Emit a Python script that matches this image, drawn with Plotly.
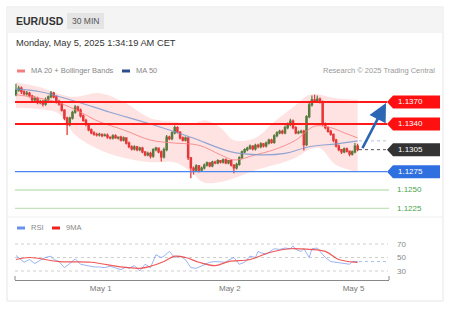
import plotly.graph_objects as go

W, H = 454, 319

# ---------------- data ----------------
first_open = 1.1380
close = [1.1386, 1.1389, 1.1384, 1.1381, 1.1382, 1.1378, 1.1373, 1.1375, 1.1369, 1.1371,
         1.1367, 1.1373, 1.1377, 1.1382, 1.1377, 1.1371, 1.1367, 1.1359, 1.1348, 1.1339,
         1.1348, 1.1356, 1.1363, 1.1359, 1.1351, 1.1345, 1.1340, 1.1332, 1.1328, 1.1326,
         1.1325, 1.1326, 1.1324, 1.1325, 1.1322, 1.1321, 1.1324, 1.1321, 1.1322, 1.1318,
         1.1321, 1.1314, 1.1309, 1.1306, 1.1309, 1.1305, 1.1307, 1.1302, 1.1298, 1.1300,
         1.1296, 1.1305, 1.1307, 1.1302, 1.1295, 1.1305, 1.1322, 1.1320, 1.1328, 1.1335,
         1.1329, 1.1321, 1.1318, 1.1321, 1.1294, 1.1280, 1.1277, 1.1283, 1.1277, 1.1280,
         1.1284, 1.1287, 1.1283, 1.1288, 1.1287, 1.1290, 1.1288, 1.1291, 1.1287, 1.1290,
         1.1284, 1.1280, 1.1285, 1.1294, 1.1302, 1.1305, 1.1307, 1.1310, 1.1306, 1.1311,
         1.1309, 1.1313, 1.1310, 1.1314, 1.1318, 1.1315, 1.1324, 1.1328, 1.1330, 1.1328,
         1.1335, 1.1339, 1.1344, 1.1335, 1.1328, 1.1329, 1.1330, 1.1312, 1.1350, 1.1366,
         1.1373, 1.1371, 1.1374, 1.1370, 1.1340, 1.1335, 1.1330, 1.1326, 1.1318, 1.1310,
         1.1305, 1.1302, 1.1306, 1.1303, 1.1299, 1.1302, 1.1310, 1.1305]
# wick lengths in pips
upper_wick = [9, 3, 2, 2, 3, 2, 2, 3, 2, 2, 2, 3, 2, 3, 2, 2, 2, 2, 1, 2,
              2, 2, 3, 2, 2, 2, 2, 1, 2, 2, 2, 2, 1, 2, 2, 1, 2, 2, 1, 2,
              2, 1, 2, 2, 2, 1, 2, 2, 1, 2, 2, 2, 2, 1, 2, 3, 3, 2, 2, 3,
              2, 1, 2, 2, 1, 1, 2, 2, 1, 2, 2, 2, 1, 2, 2, 2, 1, 2, 2, 1,
              2, 1, 2, 2, 2, 2, 2, 2, 1, 2, 2, 2, 1, 2, 2, 2, 2, 2, 2, 2,
              3, 3, 3, 2, 2, 2, 2, 2, 2, 4, 6, 7, 5, 2, 2, 2, 2, 2, 1, 2,
              2, 1, 2, 2, 1, 2, 4, 3]
lower_wick = [2, 2, 3, 2, 2, 2, 3, 2, 2, 2, 3, 2, 2, 2, 2, 3, 2, 2, 3, 14,
              2, 2, 2, 2, 2, 2, 3, 2, 2, 2, 2, 2, 2, 1, 2, 2, 2, 1, 2, 2,
              2, 2, 2, 2, 2, 2, 2, 2, 2, 2, 3, 2, 2, 2, 6, 2, 2, 2, 2, 2,
              2, 2, 2, 2, 3, 14, 6, 2, 3, 2, 2, 2, 2, 2, 2, 2, 2, 2, 2, 2,
              2, 7, 2, 2, 2, 2, 2, 2, 2, 2, 2, 2, 2, 2, 2, 2, 2, 2, 2, 2,
              2, 2, 2, 2, 2, 2, 2, 8, 2, 2, 2, 2, 2, 2, 3, 2, 2, 2, 3, 2,
              2, 3, 2, 2, 3, 2, 2, 2]

# indicators read at sparse candle positions
band_idx = [0, 9, 16, 22, 31, 40, 50, 59, 65, 70, 76, 81, 89, 96, 104, 109, 113, 119, 127]
band_up = [1.1397, 1.1390, 1.1381, 1.1377, 1.1382, 1.1370, 1.1348, 1.1343, 1.1339, 1.1345,
           1.1335, 1.1318, 1.1321, 1.1343, 1.1366, 1.1380, 1.1380, 1.1375, 1.1373]
band_lo = [1.1362, 1.1360, 1.1354, 1.1325, 1.1305, 1.1294, 1.1288, 1.1288, 1.1275, 1.1260,
           1.1261, 1.1266, 1.1277, 1.1284, 1.1294, 1.1305, 1.1307, 1.1284, 1.1275]
ma20_idx = [0, 9, 16, 24, 31, 40, 50, 59, 68, 76, 81, 89, 96, 104, 111, 117, 122, 127]
ma20_val = [1.1380, 1.1375, 1.1369, 1.1356, 1.1343, 1.1332, 1.1318, 1.1314, 1.1311, 1.1298,
            1.1291, 1.1298, 1.1305, 1.1318, 1.1337, 1.1335, 1.1328, 1.1321]
ma50_idx = [0, 9, 22, 35, 50, 65, 80, 91, 100, 109, 119, 127]
ma50_val = [1.1388, 1.1384, 1.1371, 1.1356, 1.1340, 1.1322, 1.1302, 1.1298, 1.1300, 1.1309,
            1.1313, 1.1317]

rsi_idx = [0, 1, 3, 5, 7, 9, 11, 13, 14, 16, 18, 20, 22, 24, 26, 28, 29, 31, 33, 35,
           37, 39, 41, 42, 44, 46, 48, 50, 52, 54, 55, 57, 59, 61, 63, 65, 67, 68, 70, 72,
           74, 76, 78, 79, 81, 83, 85, 87, 89, 90, 91, 93, 94, 96, 98, 100, 102, 103, 104, 106,
           107, 109, 110, 112, 113, 115, 117, 119, 120, 122, 124, 125, 127]
rsi_val = [53, 50, 43, 47, 41, 46, 50, 52, 47, 44, 35, 41, 48, 40, 38, 36, 36, 36, 35, 37,
           34, 32, 36, 34, 38, 30, 40, 35, 54, 50, 52, 59, 50, 52, 47, 35, 34, 36, 40, 43,
           44, 44, 43, 46, 50, 40, 43, 52, 50, 59, 57, 55, 58, 63, 62, 64, 63, 67, 62, 59,
           63, 50, 63, 64, 59, 50, 44, 43, 43, 41, 40, 44, 44]
ma9_idx = [0, 5, 16, 28, 39, 46, 50, 55, 59, 63, 68, 74, 79, 87, 94, 102, 109, 115, 120, 126, 127]
ma9_val = [47, 50, 44, 43, 36, 34, 37, 44, 52, 50, 43, 38, 44, 47, 57, 63, 62, 59, 47, 43, 43]

levels_red = [1.1370, 1.1340]
level_last = 1.1305
level_blue = 1.1275
levels_green = [1.1250, 1.1225]
target_price = 1.1370
tick_pos = [31.5, 79.5, 125.5]
tick_text = ["May 1", "May 2", "May 5"]
rsi_levels = [70, 50, 30]

# ---------------- derived ----------------
n = len(close)
xs = list(range(n))
opens = [first_open] + close[:-1]
highs = [max(o, c) + u / 10000 for o, c, u in zip(opens, close, upper_wick)]
lows = [min(o, c) - d / 10000 for o, c, d in zip(opens, close, lower_wick)]

def P(px):
    return px / W

def Q(py):
    return 1 - py / H

# layout geometry (pixels)
X_L, X_R = 15, 389
Y_MAIN_T, Y_MAIN_B = 80, 215
Y_RSI_T, Y_RSI_B = 232, 280
PX_PER_BAR = 2.69
X0_BAR = 16
x_range = [(X_L - X0_BAR) / PX_PER_BAR, (X_R - X0_BAR) / PX_PER_BAR]
main_range = [1.12159, 1.14000]
rsi_range = [16.67, 87.8]
pip_px = (Y_MAIN_B - Y_MAIN_T) / (main_range[1] - main_range[0])

fig = go.Figure()

# Bollinger band
fig.add_trace(go.Scatter(x=band_idx, y=band_up, mode="lines", line=dict(width=0, shape="spline"),
                         hoverinfo="skip", xaxis="x", yaxis="y"))
fig.add_trace(go.Scatter(x=band_idx, y=band_lo, mode="lines", line=dict(width=0, shape="spline"),
                         fill="tonexty", fillcolor="rgba(255,110,110,0.2)", hoverinfo="skip",
                         xaxis="x", yaxis="y"))
fig.add_trace(go.Scatter(x=ma20_idx, y=ma20_val, mode="lines",
                         line=dict(color="rgba(245,130,130,0.85)", width=1, shape="spline"),
                         xaxis="x", yaxis="y"))
fig.add_trace(go.Scatter(x=ma50_idx, y=ma50_val, mode="lines",
                         line=dict(color="rgba(120,150,205,0.8)", width=1.2, shape="spline"),
                         xaxis="x", yaxis="y"))

fig.add_trace(go.Candlestick(
    x=xs, open=opens, high=highs, low=lows, close=close,
    increasing=dict(line=dict(color="#2f7d32", width=1.2), fillcolor="#2f7d32"),
    decreasing=dict(line=dict(color="#e0282a", width=1.2), fillcolor="#e0282a"),
    whiskerwidth=0, xaxis="x", yaxis="y"))

# dotted extensions
last_x = n - 1
ext_x1 = (387 - X0_BAR) / PX_PER_BAR
fig.add_trace(go.Scatter(x=[last_x + 0.5, ext_x1], y=[ma50_val[-1]] * 2, mode="lines",
                         line=dict(color="#b5c3da", width=1, dash="dot"), xaxis="x", yaxis="y"))
fig.add_trace(go.Scatter(x=[last_x + 0.5, ext_x1], y=[close[-1]] * 2, mode="lines",
                         line=dict(color="#555555", width=1, dash="dot"), xaxis="x", yaxis="y"))

# RSI
fig.add_trace(go.Scatter(x=rsi_idx, y=rsi_val, mode="lines",
                         line=dict(color="rgba(100,140,235,0.65)", width=1),
                         xaxis="x2", yaxis="y2"))
fig.add_trace(go.Scatter(x=ma9_idx, y=ma9_val, mode="lines",
                         line=dict(color="rgba(240,60,60,0.85)", width=1.2, shape="spline"),
                         xaxis="x2", yaxis="y2"))
fig.add_trace(go.Scatter(x=[last_x + 0.5, ext_x1], y=[rsi_val[-1]] * 2, mode="lines",
                         line=dict(color="#a8bff0", width=1, dash="dot"), xaxis="x2", yaxis="y2"))

shapes = []
ann = []

# card & header
shapes.append(dict(type="rect", xref="paper", yref="paper", x0=P(7), x1=P(443), y0=Q(301), y1=Q(7),
                   line=dict(color="#e6e6e6", width=1), fillcolor="white", layer="below"))
shapes.append(dict(type="rect", xref="paper", yref="paper", x0=P(7.5), x1=P(442.5), y0=Q(33), y1=Q(7.5),
                   line=dict(width=0), fillcolor="#f4f4f4", layer="below"))
shapes.append(dict(type="rect", xref="paper", yref="paper", x0=P(67), x1=P(104), y0=Q(29), y1=Q(13),
                   line=dict(width=0), fillcolor="#e4e4e4", layer="below"))
shapes.append(dict(type="line", xref="paper", yref="paper", x0=P(7.5), x1=P(442.5), y0=Q(217), y1=Q(217),
                   line=dict(color="#eeeeee", width=1), layer="below"))

ann.append(dict(text="<b>EUR/USD</b>", x=P(14), y=Q(21), xanchor="left", yanchor="middle",
                font=dict(size=10.5, color="#333333")))
ann.append(dict(text="30 MIN", x=P(85.5), y=Q(21), xanchor="center", yanchor="middle",
                font=dict(size=8.5, color="#555555")))
ann.append(dict(text="Monday, May 5, 2025 1:34:19 AM CET", x=P(14), y=Q(43), xanchor="left",
                yanchor="middle", font=dict(size=9.3, color="#333333")))

# legends
shapes.append(dict(type="rect", xref="paper", yref="paper", x0=P(17), x1=P(25), y0=Q(72.5), y1=Q(69.5),
                   line=dict(width=0), fillcolor="#f28080"))
ann.append(dict(text="MA 20 + Bollinger Bands", x=P(29), y=Q(71), xanchor="left", yanchor="middle",
                font=dict(size=7.5, color="#888888")))
shapes.append(dict(type="rect", xref="paper", yref="paper", x0=P(122), x1=P(130), y0=Q(72.5), y1=Q(69.5),
                   line=dict(width=0), fillcolor="#2c4f8c"))
ann.append(dict(text="MA 50", x=P(134), y=Q(71), xanchor="left", yanchor="middle",
                font=dict(size=7.5, color="#888888")))
ann.append(dict(text="Research © 2025 Trading Central", x=P(437), y=Q(71), xanchor="right",
                yanchor="middle", font=dict(size=7.5, color="#999999")))
shapes.append(dict(type="rect", xref="paper", yref="paper", x0=P(17), x1=P(25), y0=Q(229.5), y1=Q(226.5),
                   line=dict(width=0), fillcolor="#6b8fec"))
ann.append(dict(text="RSI", x=P(29), y=Q(228), xanchor="left", yanchor="middle",
                font=dict(size=7.5, color="#888888")))
shapes.append(dict(type="rect", xref="paper", yref="paper", x0=P(52), x1=P(60), y0=Q(229.5), y1=Q(226.5),
                   line=dict(width=0), fillcolor="#f02020"))
ann.append(dict(text="9MA", x=P(64), y=Q(228), xanchor="left", yanchor="middle",
                font=dict(size=7.5, color="#888888")))

# level lines & tags
h = 6.5 / pip_px

def tag(price, color):
    xt, xc, xr = P(387), P(393), P(440)
    shapes.append(dict(type="path", xref="paper", yref="y",
                       path=f"M {xt},{price} L {xc},{price + h} L {xr},{price + h} "
                            f"L {xr},{price - h} L {xc},{price - h} Z",
                       fillcolor=color, line=dict(width=0)))
    ann.append(dict(text=f"{price:.4f}", x=P(396), y=price, yref="y", xanchor="left",
                    yanchor="middle", font=dict(size=8, color="white")))

for lv in levels_red:
    shapes.append(dict(type="line", xref="paper", yref="y", x0=P(X_L), x1=P(387), y0=lv, y1=lv,
                       line=dict(color="#ff1a1a", width=2)))
    tag(lv, "#ff1010")
shapes.append(dict(type="line", xref="paper", yref="y", x0=P(X_L), x1=P(387), y0=level_blue, y1=level_blue,
                   line=dict(color="#4a86ee", width=1.3)))
tag(level_blue, "#2f6fe0")
tag(level_last, "#333333")
for lv in levels_green:
    shapes.append(dict(type="line", xref="paper", yref="y", x0=P(X_L), x1=P(389), y0=lv, y1=lv,
                       line=dict(color="#c4e3bd", width=1.3)))
    ann.append(dict(text=f"{lv:.4f}", x=P(395), y=lv, yref="y", xanchor="left", yanchor="middle",
                    font=dict(size=8, color="#4aa34a")))

# arrow
ann.append(dict(x=(386 - X0_BAR) / PX_PER_BAR, y=target_price - 1 / pip_px, xref="x", yref="y",
                ax=last_x + 1.5, ay=close[-1], axref="x", ayref="y", text="", showarrow=True,
                arrowhead=2, arrowsize=1.4, arrowwidth=2.6, arrowcolor="#2d66b3"))

# RSI grid
for lv in rsi_levels:
    shapes.append(dict(type="line", xref="paper", yref="y2", x0=P(X_L), x1=P(388), y0=lv, y1=lv,
                       line=dict(color="#cfcfcf", width=1, dash="dot"), layer="below"))
    ann.append(dict(text=str(lv), x=P(395), y=lv, yref="y2", xanchor="left", yanchor="middle",
                    font=dict(size=8, color="#888888")))

# axis end ticks
for px in (X_L, X_R):
    shapes.append(dict(type="line", xref="paper", yref="paper", x0=P(px), x1=P(px), y0=Q(280), y1=Q(276),
                       line=dict(color="#888888", width=1)))

for a in ann:
    a.setdefault("xref", "paper")
    a.setdefault("yref", "paper")
    a.setdefault("showarrow", False)

fig.update_layout(
    width=W, height=H, margin=dict(l=0, r=0, t=0, b=0),
    paper_bgcolor="white", plot_bgcolor="rgba(0,0,0,0)",
    showlegend=False,
    font=dict(family="Liberation Sans, Arial, sans-serif"),
    shapes=shapes, annotations=ann,
    xaxis=dict(domain=[P(X_L), P(X_R)], range=x_range, anchor="y", showgrid=False, zeroline=False,
               showticklabels=False, showline=False, rangeslider=dict(visible=False), fixedrange=True),
    yaxis=dict(domain=[Q(Y_MAIN_B), Q(Y_MAIN_T)], range=main_range, anchor="x", showgrid=False,
               zeroline=False, showticklabels=False, showline=False),
    xaxis2=dict(domain=[P(X_L), P(X_R)], range=x_range, anchor="y2", matches="x", showgrid=False,
                zeroline=False, showline=True, linecolor="#888888", linewidth=1,
                tickvals=tick_pos, ticktext=tick_text, ticks="",
                tickfont=dict(size=8, color="#777777")),
    yaxis2=dict(domain=[Q(Y_RSI_B), Q(Y_RSI_T)], range=rsi_range, anchor="x2", showgrid=False,
                zeroline=False, showticklabels=False, showline=False),
)

fig.write_html("out.html")
